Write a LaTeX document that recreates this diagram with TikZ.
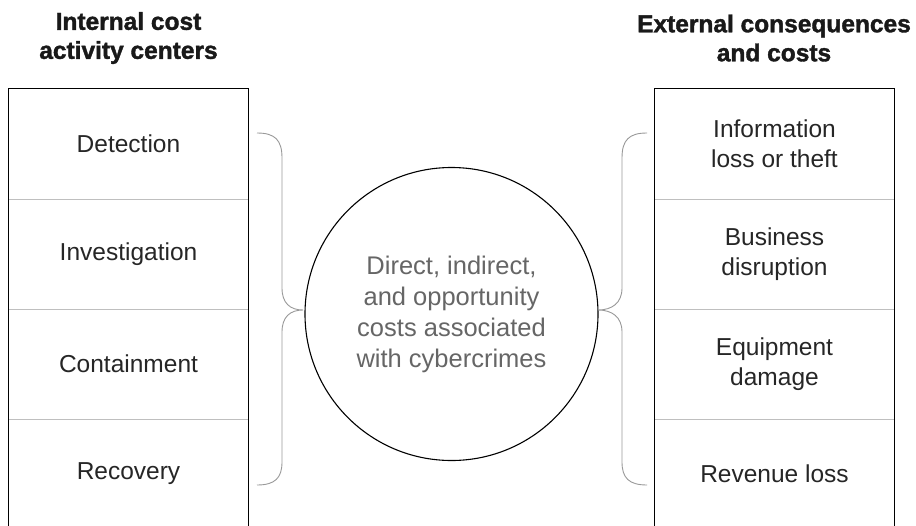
\documentclass[tikz,border=0pt]{standalone}
\usepackage{fontspec}
\setmainfont{Liberation Sans}
\newfontfamily\heavyfont[FakeBold=1.5]{Liberation Sans Bold}
\begin{document}
\begin{tikzpicture}[x=1pt,y=-1pt,
  cell/.style={minimum width=239pt, minimum height=110pt, inner sep=0pt, align=center,
    font=\fontsize{24.5}{30}\selectfont, text=black!85},
  divider/.style={draw=black!25, line width=0.8pt},
  frame/.style={draw=black, line width=1pt},
  brace/.style={draw=black!40, line width=0.9pt},
  title/.style={font=\heavyfont\fontsize{24.5}{29}\selectfont, align=center, text=black!90, inner sep=0pt}]
\useasboundingbox (0,0) rectangle (916,525);
\fill[white] (0,0) rectangle (916,525);
% titles
\node[title] (tl) at (128.5,38) {Internal cost\\activity centers};
\node[title] (tr) at (774,38) {External consequences\\and costs};
% left column
\node[cell] (d) at (128.5,144) {Detection};
\node[cell] (i) at (128.5,254) {Investigation};
\node[cell] (c) at (128.5,364) {Containment};
\node[cell] (r) at (128.5,474) {Recovery};
\draw[divider] (d.south west) -- (d.south east);
\draw[divider] (i.south west) -- (i.south east);
\draw[divider] (c.south west) -- (c.south east);
\draw[frame] (r.south west) -- (d.north west) -- (d.north east) -- (r.south east);
% right column
\node[cell] (e1) at (774.5,144) {Information\\loss or theft};
\node[cell] (e2) at (774.5,254) {Business\\disruption};
\node[cell] (e3) at (774.5,364) {Equipment\\damage};
\node[cell] (e4) at (774.5,474) {Revenue loss};
\draw[divider] (e1.south west) -- (e1.south east);
\draw[divider] (e2.south west) -- (e2.south east);
\draw[divider] (e3.south west) -- (e3.south east);
\draw[frame] (e4.south west) -- (e1.north west) -- (e1.north east) -- (e4.south east);
% circle
\node[circle, draw=black, line width=1.1pt, minimum size=293pt, inner sep=0pt, text=black!60,
  align=center, font=\fontsize{25.5}{31}\selectfont] (cc) at (451.5,314)
  {Direct, indirect,\\and opportunity\\costs associated\\with cybercrimes};
% braces
\coordinate (lbt) at (257,133);
\coordinate (lbb) at (257,485);
\coordinate (lbtip) at (303,310);
\draw[brace] (lbt) .. controls (275,133) and (282,140) .. (282,158) -- (282,288)
  .. controls (282,303) and (290,310) .. (lbtip)
  .. controls (290,310) and (282,317) .. (282,332) -- (282,462)
  .. controls (282,478) and (275,485) .. (lbb);
\coordinate (rbt) at (647,133);
\coordinate (rbb) at (647,485);
\coordinate (rbtip) at (598,310);
\draw[brace] (rbt) .. controls (629,133) and (622,140) .. (622,158) -- (622,288)
  .. controls (622,303) and (612,310) .. (rbtip)
  .. controls (612,310) and (622,317) .. (622,332) -- (622,462)
  .. controls (622,478) and (629,485) .. (rbb);
\end{tikzpicture}
\end{document}
